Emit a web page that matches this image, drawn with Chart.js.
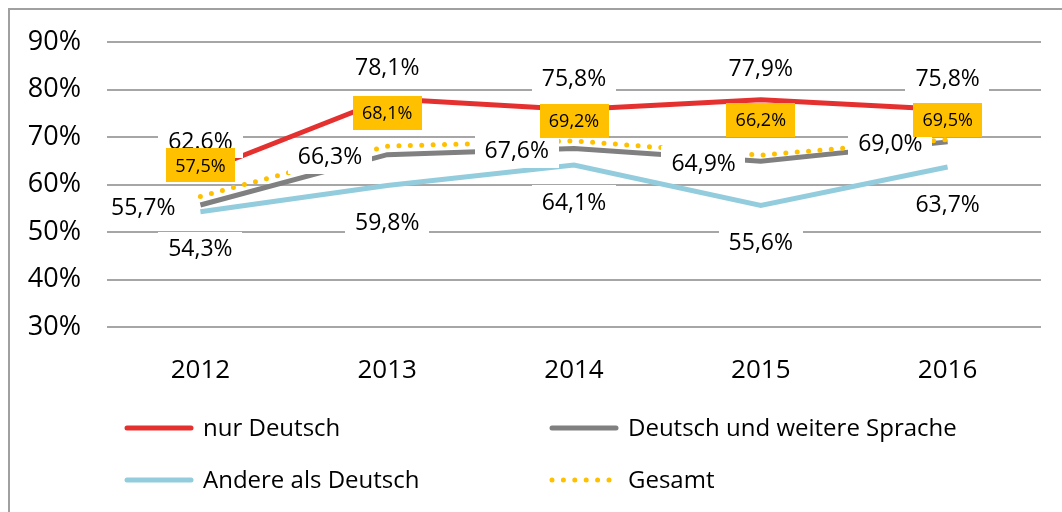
<!DOCTYPE html>
<html><head><meta charset="utf-8">
<script src="https://cdn.jsdelivr.net/npm/chart.js@4/dist/chart.umd.min.js"></script>
<style>html,body{margin:0;padding:0;background:#fff;overflow:hidden}canvas{display:block}</style>
</head><body>
<canvas id="c" width="1062" height="512"></canvas>
<script>
const categories = ['2012', '2013', '2014', '2015', '2016'];
const nurDeutsch = [62.6, 78.1, 75.8, 77.9, 75.8];
const deutschUndWeitere = [55.7, 66.3, 67.6, 64.9, 69.0];
const andereAlsDeutsch = [54.3, 59.8, 64.1, 55.6, 63.7];
const gesamt = [57.5, 68.1, 69.2, 66.2, 69.5];
const nurDeutschLabels = ['62.6%', '78,1%', '75,8%', '77,9%', '75,8%'];
const seriesNames = ['nur Deutsch', 'Deutsch und weitere Sprache', 'Andere als Deutsch', 'Gesamt'];
const yMin = 30, yMax = 90, yStep = 10;

const FONT = '"Open Sans", "Noto Sans", sans-serif';
const fmt = v => v.toFixed(1).replace('.', ',') + '%';

const COLORS = { red: '#E4312F', gray: '#808080', blue: '#93CDDD', gold: '#FFC000', grid: '#A6A6A6' };

const datasets = [
  { label: seriesNames[0], data: nurDeutsch, borderColor: COLORS.red, backgroundColor: COLORS.red, borderWidth: 5, order: 4,
    labelCfg: { pos: 'above', dy: -31, texts: nurDeutschLabels, bg: '#fff', font: '23px ' + FONT, padX: 10, padY: 5 } },
  { label: seriesNames[1], data: deutschUndWeitere, borderColor: COLORS.gray, backgroundColor: COLORS.gray, borderWidth: 5, order: 3,
    labelCfg: { pos: 'left', dy: 2, gap: 25, bg: '#fff', font: '23px ' + FONT, padX: 10, padY: 5 } },
  { label: seriesNames[2], data: andereAlsDeutsch, borderColor: COLORS.blue, backgroundColor: COLORS.blue, borderWidth: 5, order: 2,
    labelCfg: { pos: 'below', dy: 37, bg: '#fff', font: '23px ' + FONT, padX: 10, padY: 5 } },
  { label: seriesNames[3], data: gesamt, borderColor: COLORS.gold, backgroundColor: COLORS.gold, borderWidth: 5, order: 1,
    borderDash: [0, 11.4], borderCapStyle: 'round',
    labelCfg: { pos: 'above', dyList: [-31, -33, -20, -35, -20], bg: COLORS.gold, font: '18px ' + FONT, boxW: 69, boxH: 34 } }
];

const framePlugin = {
  id: 'frame',
  beforeDraw(chart) {
    const ctx = chart.ctx;
    ctx.save();
    ctx.strokeStyle = '#A0A0A0';
    ctx.lineWidth = 2;
    ctx.beginPath();
    ctx.moveTo(9, 520); ctx.lineTo(9, 9); ctx.lineTo(1070, 9);
    ctx.stroke();
    ctx.restore();
  }
};

const labelPlugin = {
  id: 'pointLabels',
  afterDatasetsDraw(chart) {
    const ctx = chart.ctx;
    chart.data.datasets.forEach((ds, di) => {
      const meta = chart.getDatasetMeta(di);
      const cfg = ds.labelCfg;
      meta.data.forEach((pt, i) => {
        const text = cfg.texts ? cfg.texts[i] : fmt(ds.data[i]);
        ctx.save();
        ctx.font = cfg.font;
        const tw = ctx.measureText(text).width;
        const bw = cfg.boxW || tw + 2 * cfg.padX;
        const bh = cfg.boxH || 24 + 2 * cfg.padY;
        let cx = pt.x, cy = pt.y;
        if (cfg.pos === 'above' || cfg.pos === 'below') {
          cy += cfg.dyList ? cfg.dyList[i] : cfg.dy;
        } else if (cfg.pos === 'left') {
          cx = pt.x - cfg.gap - tw / 2;
          cy += cfg.dy;
        }
        ctx.fillStyle = cfg.bg;
        ctx.fillRect(Math.round(cx - bw / 2), Math.round(cy - bh / 2), Math.round(bw), Math.round(bh));
        ctx.fillStyle = '#000';
        ctx.textAlign = 'center';
        ctx.textBaseline = 'middle';
        ctx.fillText(text, cx, cy + 1);
        ctx.restore();
      });
    });
  }
};

const legendPlugin = {
  id: 'customLegend',
  afterDraw(chart) {
    const ctx = chart.ctx;
    const spots = [[127, 428], [552, 428], [127, 480], [552, 480]];
    chart.data.datasets.forEach((ds, i) => {
      const [x, y] = spots[i];
      ctx.save();
      ctx.strokeStyle = ds.borderColor;
      ctx.lineWidth = 5;
      ctx.lineCap = 'round';
      if (ds.borderDash) ctx.setLineDash(ds.borderDash);
      ctx.beginPath();
      ctx.moveTo(x, y); ctx.lineTo(x + 64, y);
      ctx.stroke();
      ctx.setLineDash([]);
      ctx.fillStyle = '#000';
      ctx.font = '24px ' + FONT;
      ctx.textAlign = 'left';
      ctx.textBaseline = 'middle';
      ctx.fillText(ds.label, x + 76, y + 1);
      ctx.restore();
    });
  }
};

new Chart(document.getElementById('c'), {
  type: 'line',
  data: { labels: categories, datasets: datasets.map(d => Object.assign({ pointRadius: 0, pointHoverRadius: 0, tension: 0, fill: false }, d)) },
  options: {
    responsive: false,
    devicePixelRatio: 1,
    animation: false,
    events: [],
    layout: { padding: { left: 0, right: 21, top: 40, bottom: 0 } },
    plugins: { legend: { display: false }, tooltip: { enabled: false } },
    scales: {
      x: {
        type: 'category',
        offset: true,
        grid: { display: false, drawTicks: false },
        border: { display: false },
        ticks: { color: '#000', font: { family: FONT, size: 26 }, padding: 28, maxRotation: 0 },
        afterFit: s => { s.height = 185; }
      },
      y: {
        min: yMin, max: yMax,
        grid: { color: COLORS.grid, lineWidth: 2, drawTicks: false },
        border: { display: false },
        ticks: { stepSize: yStep, color: '#000', font: { family: FONT, size: 27 }, padding: 26, callback: v => v + '%' },
        afterFit: s => { s.width = 107; }
      }
    }
  },
  plugins: [framePlugin, labelPlugin, legendPlugin]
});
</script>
</body></html>
